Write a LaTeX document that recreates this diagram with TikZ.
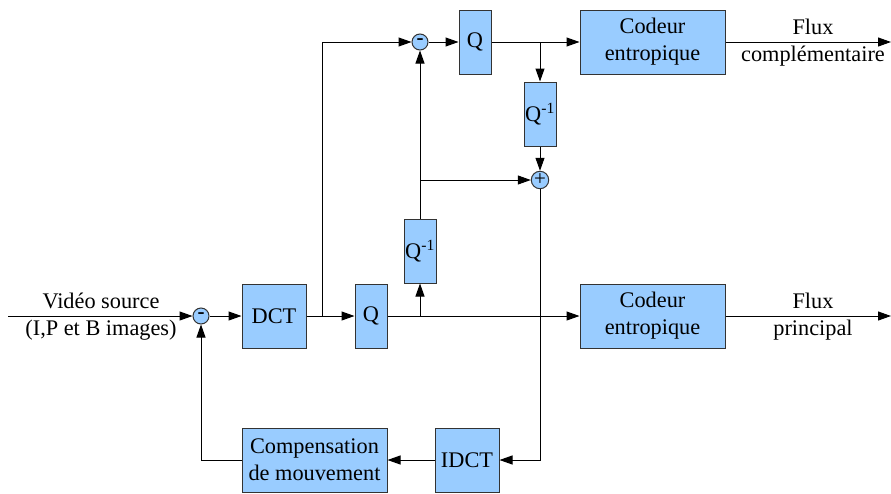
\documentclass[tikz,border=0pt]{standalone}
\usepackage{fontspec}
\setmainfont{Liberation Serif}
\usetikzlibrary{arrows.meta}
\definecolor{boxblue}{HTML}{99CCFF}
\definecolor{boxedge}{HTML}{333333}
\tikzset{
  blk/.style={draw=boxedge, fill=boxblue, line width=1pt, inner sep=0pt, align=center,
              font=\fontsize{22.3}{27}\selectfont},
  sumnode/.style={draw=boxedge, fill=boxblue, line width=1pt, circle, inner sep=0pt,
              minimum size=16pt, font=\fontsize{21}{21}\selectfont},
  lbl/.style={align=center, font=\fontsize{22.3}{27}\selectfont, inner sep=0pt},
  conn/.style={draw=black, line width=1pt, -{Triangle[length=13pt,width=9pt]}},
}
\begin{document}
\begin{tikzpicture}[x=1pt,y=-1pt]
\useasboundingbox (0,0) rectangle (891,493);
% blocks
\node[sumnode] (topminus) at (420,42) {\raisebox{1.5pt}{\textbf{-}}};
\node[blk, minimum width=32pt, minimum height=64pt] (topQ) at (475,42) {Q};
\node[blk, minimum width=145pt, minimum height=64pt] (topCod) at (652.5,42) {Codeur\\entropique};
\node[blk, minimum width=32pt, minimum height=64pt] (qinv1) at (540,114) {Q\textsuperscript{-1}};
\node[sumnode] (plus) at (540,180) {\raisebox{1pt}{+}};
\node[blk, minimum width=32pt, minimum height=64pt] (qinv2) at (420,251) {Q\textsuperscript{-1}};
\node[sumnode] (minus) at (201,316) {\raisebox{1.5pt}{\textbf{-}}};
\node[blk, minimum width=64pt, minimum height=64pt] (dct) at (274,316) {DCT};
\node[blk, minimum width=32pt, minimum height=64pt] (q) at (371,316) {Q};
\node[blk, minimum width=145pt, minimum height=64pt] (cod) at (652.5,316) {Codeur\\entropique};
\node[blk, minimum width=64pt, minimum height=64pt] (idct) at (467,460) {IDCT};
\node[blk, minimum width=145pt, minimum height=64pt] (comp) at (314.5,460) {Compensation\\de mouvement};
% labels
\node[lbl] (srclbl) at (101,317) {Vidéo source\\(I,P et B images)};
\node[lbl] (flux1) at (813,43) {Flux\\complémentaire};
\node[lbl] (flux2) at (813,317) {Flux\\principal};
% coordinates
\coordinate (in) at (8,316);
\coordinate (out1) at (891,42);
\coordinate (out2) at (891,316);
\coordinate (s1) at (322,316);
\coordinate (s2) at (540,42);
\coordinate (s3) at (420,316);
\coordinate (s4) at (420,180);
% connectors
\draw[conn] (in) -- (minus);
\draw[conn] (minus) -- (dct);
\draw[conn] (dct) -- (q);
\draw[conn] (s1) |- (topminus);
\draw[conn] (topminus) -- (topQ);
\draw[conn] (topQ) -- (topCod);
\draw[conn] (topCod) -- (out1);
\draw[conn] (s2) -- (qinv1);
\draw[conn] (qinv1) -- (plus);
\draw[conn] (q) -- (cod);
\draw[conn] (cod) -- (out2);
\draw[conn] (s3) -- (qinv2);
\draw[conn] (qinv2) -- (topminus);
\draw[conn] (s4) -- (plus);
\draw[conn] (plus) |- (idct);
\draw[conn] (idct) -- (comp);
\draw[conn] (comp) -| (minus);
\end{tikzpicture}
\end{document}
